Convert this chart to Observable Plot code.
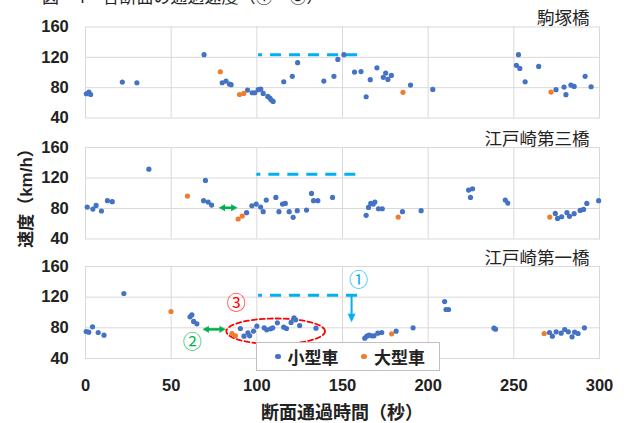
<!DOCTYPE html>
<html>
<head>
<meta charset="utf-8">
<script src="https://cdn.jsdelivr.net/npm/d3@7"></script>
<script src="https://cdn.jsdelivr.net/npm/@observablehq/plot@0.6"></script>
<style>
  html, body { margin: 0; padding: 0; background: #fff; }
  #chart { position: relative; width: 631px; height: 423px; overflow: hidden; font-family: "Liberation Sans", "Noto Sans CJK JP", sans-serif; color: #222; }
  .abs { position: absolute; }
  .panel { position: absolute; left: 0; }
</style>
</head>
<body>
<div id="chart"></div>
<script>
// ---------- data (time in s, speed in km/h) ----------
const xTicks = [0, 50, 100, 150, 200, 250, 300];
const yTicks = [40, 80, 120, 160];
const panelTitles = ["駒塚橋", "江戸崎第三橋", "江戸崎第一橋"];
const legendLabels = ["小型車", "大型車"];

const komatsukaSmall = [[0.5,72],[2,74],[3,71],[21.5,87.4],[30,86.5],[69.2,123.5],[79.8,86.5],[82,88.7],[84,84.8],[85,83.9],[94.6,76.8],[97.3,73.3],[98.8,73.3],[100.8,77.3],[102.3,78.2],[103.7,72.4],[106.4,68.5],[107.6,66.3],[108.3,64],[109.5,61.9],[115.7,87.8],[120.7,94.9],[123.8,113],[139.1,88.7],[145,94.9],[147.3,117.3],[150.8,123.5],[157,100.6],[160.8,101.2],[163.8,68],[166.2,90.5],[170.1,106.2],[173.8,93.6],[175.2,99.3],[176.5,90.9],[178.5,96.2],[189.7,83.4],[202.7,77.7],[251.5,109.4],[252.7,123.5],[253.5,105.4],[256.6,87.8],[264.5,108],[274.6,77.3],[279.3,80.8],[280.4,70.7],[283.3,83.4],[285.2,81.7],[291.6,94.9],[295.1,81.2]];
const komatsukaLarge = [[78.7,101],[89.9,71],[92.4,72.4],[185.3,73.8],[271.7,74.2]];

const edosaki3Small = [[1,81.9],[4.3,79.3],[6.2,84],[9.3,76.7],[12.8,90.2],[15.6,88.9],[37,131.6],[68.9,90.2],[70,116.8],[71.6,88.4],[73.6,84.5],[94,74.5],[97.1,83.6],[99.6,85.8],[102.2,81.9],[103.7,75.8],[105.5,91],[111.1,94.5],[112.9,75.8],[115,85.8],[116.6,86.7],[118.9,75.8],[121.2,68.4],[123.6,77.1],[129,78],[131.9,99.8],[133.1,90.2],[135.6,90.2],[144.2,94.5],[163.8,71],[165.2,81.4],[166.5,86.7],[167.9,85.8],[168.9,88.4],[171,79.7],[173.2,79.7],[185,75.8],[195.9,77.1],[223.6,104.1],[224.7,94.5],[225.9,105.9],[245,91],[246.5,87.1],[274.2,73.6],[275.5,67],[277.9,69.2],[281,74.5],[282.5,69.7],[285.2,73.2],[288.7,77.5],[290.7,78.8],[292.6,86.7],[299.5,90.2]];
const edosaki3Large = [[59.5,96.3],[89.1,66.2],[91.5,70.1],[182.5,68.8],[271,68.8]];

const edosaki1Small = [[0.4,75.2],[1.9,74.3],[4.1,81.3],[7.4,73.9],[10.8,70.4],[22.4,124.8],[61,94.3],[62.1,97],[63.1,88.3],[65,85.2],[90.4,79.1],[92.5,69.1],[94.8,73.5],[95.8,69.6],[98.1,75.6],[100,82.2],[104.3,80],[105.8,77.4],[108,78.7],[109.3,80],[112,86.5],[115.7,80.9],[117.3,79.1],[120,87],[121.7,93],[122.7,90.4],[125,83],[134.5,79.6],[163,66.5],[164.2,69.1],[165.5,70.4],[167.1,69.6],[168.4,69.6],[170.6,73],[172.9,73.9],[181.3,75.6],[191.2,80],[209.6,114.3],[210.4,103.9],[211.9,103.9],[238.4,79.6],[239.3,78.3],[270.8,73.9],[272.5,69.1],[274.7,74.8],[277.6,73],[279.7,77.8],[281.8,74.8],[284,68.3],[285.5,74.3],[287.5,72.6],[291.2,80]];
const edosaki1Large = [[49.9,101.3],[85.5,72.6],[87.5,69.6],[178.7,72.2],[267.7,72.6]];

// annotations: [t1, t2, speed]
const dashedLimit = [[101, 160, 123.5], [100, 158, 125], [101, 159.3, 122.6]];
const greenArrows = [null, [78, 88.5, 81], [68.5, 81.7, 78]];
const blueArrow = [155.3, 122.6, 88];      // t, from, to (panel 3)
const ellipse3 = [111, 75.5, 28.8, 16.7];  // cx, cy, rx, ry (panel 3)
const circledLabels = [["①", 159.3, 141.3, "#00B0F0"], ["②", 62.3, 60, "#00B050"], ["③", 88, 111.7, "#FF0000"]];

const BLUE = "#4472C4", ORANGE = "#ED7D31", CYAN = "#00B0F0", GREEN = "#00B050", RED = "#FF0000", GRID = "#D9D9D9";
const JP = "'Noto Sans CJK JP', sans-serif";

function panel(i, small, large, top, marginTop, innerH, marginBottom, showX) {
  const d = dashedLimit[i];
  const marks = [
    Plot.gridX(xTicks.slice(1, -1), {stroke: GRID, strokeOpacity: 1}),
    Plot.gridY([80, 120], {stroke: GRID, strokeOpacity: 1}),
    Plot.frame({stroke: GRID}),
    Plot.axisY(yTicks, {tickSize: 0, tickPadding: 16.7, fontSize: 16.5, fontWeight: "bold", label: null}),
    Plot.text([panelTitles[i]], {frameAnchor: "top-right", textAnchor: "end", lineAnchor: "bottom", dy: -3, dx: -10, fontSize: 17.5, fontFamily: JP, fontWeight: "normal", fill: "#222"}),
    Plot.ruleY([d], {x1: a => a[0], x2: a => a[1], y: a => a[2], stroke: CYAN, strokeWidth: 3, strokeDasharray: "11,8", strokeDashoffset: 7})
  ];
  if (showX) marks.push(Plot.axisX(xTicks, {tickSize: 0, tickPadding: 21, fontSize: 16.5, fontWeight: "bold", label: null}));
  const g = greenArrows[i];
  if (g) {
    marks.push(Plot.ruleY([g], {x1: a => a[0] + 2.5, x2: a => a[1] - 2.5, y: a => a[2], stroke: GREEN, strokeWidth: 2.5}));
    marks.push(Plot.vector([[g[0], g[2], 270], [g[1], g[2], 90]], {x: a => a[0], y: a => a[1], rotate: a => a[2], shape: "spike", anchor: "end", length: 6, r: 3.2, fill: GREEN, stroke: GREEN, strokeWidth: 0.5}));
  }
  if (i === 2) {
    const [cx, cy, rx, ry] = ellipse3;
    const pts = d3.range(0, 361, 4).map(a => [cx + rx * Math.cos(a * Math.PI / 180), cy + ry * Math.sin(a * Math.PI / 180)]);
    marks.push(Plot.line(pts, {x: p => p[0], y: p => p[1], stroke: RED, strokeWidth: 1.8, strokeDasharray: "5,3", curve: "linear"}));
    marks.push(Plot.ruleX([blueArrow], {x: a => a[0], y1: a => a[1], y2: a => a[2] + 7, stroke: CYAN, strokeWidth: 2}));
    marks.push(Plot.vector([blueArrow], {x: a => a[0], y: a => a[2], rotate: 180, shape: "spike", anchor: "end", length: 8, r: 3.6, fill: CYAN, stroke: CYAN, strokeWidth: 0.5}));
    marks.push(Plot.text(circledLabels, {x: a => a[1], y: a => a[2], text: a => a[0], fill: a => a[3], fontSize: 19, fontFamily: JP, fontWeight: "normal"}));
  }
  marks.push(Plot.dot(small, {x: p => p[0], y: p => p[1], r: 2.6, fill: BLUE}));
  marks.push(Plot.dot(large, {x: p => p[0], y: p => p[1], r: 2.6, fill: ORANGE}));
  const svg = Plot.plot({
    width: 631,
    height: marginTop + innerH + marginBottom,
    marginLeft: 85, marginRight: 32, marginTop, marginBottom,
    x: showX ? {domain: [0, 300]} : {domain: [0, 300], axis: null},
    y: {domain: [40, 160]},
    style: {fontFamily: "'Liberation Sans', 'Noto Sans CJK JP', sans-serif", fontSize: "16.5px", fontWeight: "bold", color: "#222", background: "transparent", overflow: "visible"},
    marks
  });
  const wrap = document.createElement("div");
  wrap.className = "panel";
  wrap.style.top = top + "px";
  wrap.appendChild(svg);
  return wrap;
}

const chart = document.getElementById("chart");

// cut-off figure caption at the very top
const cap = document.createElement("div");
cap.className = "abs";
cap.style.cssText = "left:42px;top:-13px;font-size:17px;line-height:17px;font-family:'Noto Sans CJK JP',sans-serif;white-space:nowrap;color:#222;";
cap.textContent = "図‐4　各断面の通過速度（①～③）";
chart.appendChild(cap);

chart.appendChild(panel(0, komatsukaSmall, komatsukaLarge, 0, 26.5, 91, 2, false));
chart.appendChild(panel(1, edosaki3Small, edosaki3Large, 120, 27, 91.5, 2, false));
chart.appendChild(panel(2, edosaki1Small, edosaki1Large, 240, 26, 92, 65, true));

// y-axis title
const yt = document.createElement("div");
yt.className = "abs";
yt.style.cssText = "left:24px;top:194px;transform:translate(-50%,-50%) rotate(-90deg);font-size:17px;font-weight:bold;white-space:nowrap;font-family:'Liberation Sans','Noto Sans CJK JP',sans-serif;";
yt.textContent = "速度（km/h）";
chart.appendChild(yt);

// x-axis title
const xt = document.createElement("div");
xt.className = "abs";
xt.style.cssText = "left:342px;top:411px;transform:translate(-50%,-50%);font-size:18px;font-weight:bold;white-space:nowrap;font-family:'Noto Sans CJK JP',sans-serif;";
xt.textContent = "断面通過時間（秒）";
chart.appendChild(xt);

// legend
const lg = document.createElement("div");
lg.className = "abs";
lg.style.cssText = "left:256px;top:342px;width:182px;height:27px;background:#fff;border:1px solid #BFBFBF;font-family:'Noto Sans CJK JP',sans-serif;font-size:17px;font-weight:bold;";
const items = [[BLUE, 21, 30.5], [ORANGE, 107, 117]];
items.forEach(([c, dx, tx], k) => {
  const dot = document.createElement("div");
  dot.style.cssText = `position:absolute;left:${dx - 2.6}px;top:${13.5 - 2.6}px;width:5.2px;height:5.2px;border-radius:50%;background:${c};`;
  lg.appendChild(dot);
  const t = document.createElement("div");
  t.style.cssText = `position:absolute;left:${tx}px;top:0;height:27px;line-height:27px;white-space:nowrap;`;
  t.textContent = legendLabels[k];
  lg.appendChild(t);
});
chart.appendChild(lg);
</script>
</body>
</html>
